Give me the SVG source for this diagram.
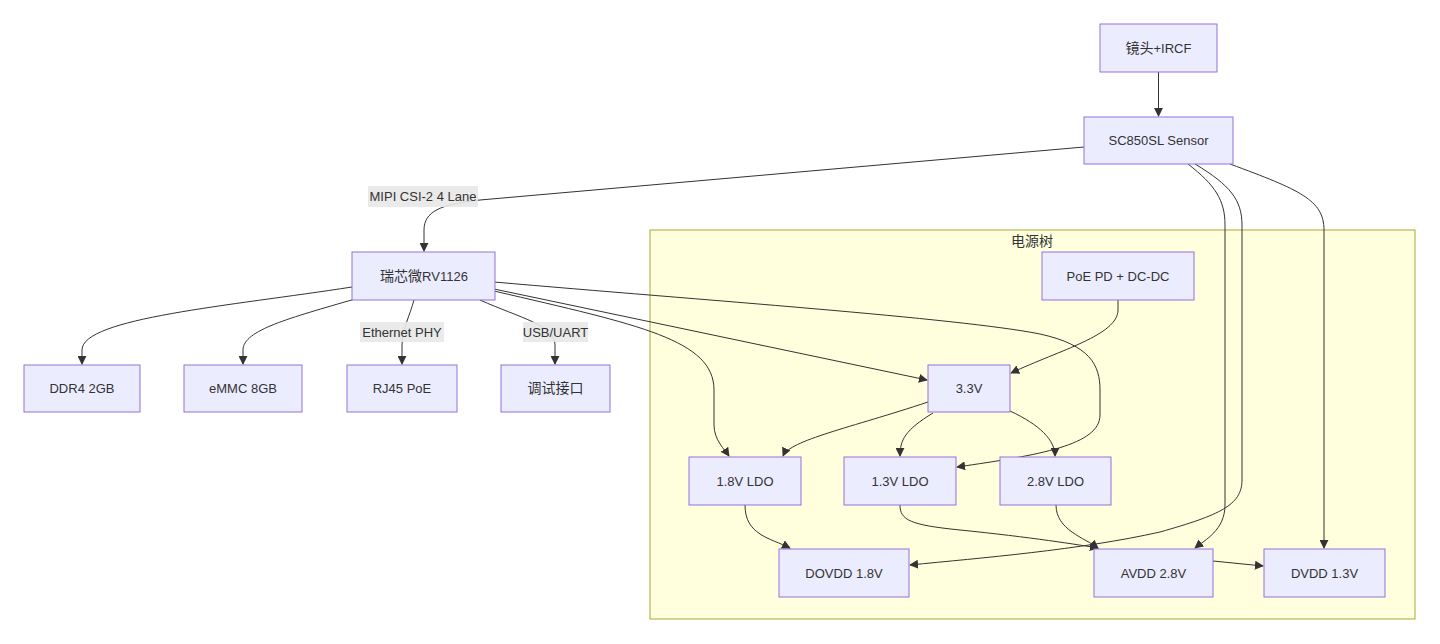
<svg xmlns="http://www.w3.org/2000/svg" width="1440" height="644" viewBox="0 0 1440 644">
<style>
text{font-family:"Liberation Sans","Noto Sans CJK SC",sans-serif;font-size:13px;fill:#333;text-anchor:middle}
.c{font-size:14px}
.node rect{fill:#ECECFF;stroke:#9370DB;stroke-width:1}
.edges path{fill:none;stroke:#333;stroke-width:1;marker-end:url(#arr)}
.lbl rect{fill:#e8e8e8;opacity:0.9}
.cluster rect{fill:#ffffde;stroke:#aaaa33;stroke-width:1}
</style>
<defs>
<marker id="arr" viewBox="0 0 10 10" refX="9" refY="5" markerWidth="9" markerHeight="9" markerUnits="userSpaceOnUse" orient="auto">
<path d="M0,0 L10,5 L0,10 z" fill="#333"/>
</marker>
</defs>
<rect width="1440" height="644" fill="#fff"/>
<g id="cluster-power" class="cluster">
<rect x="650" y="230" width="765" height="389"/>
<text x="1032" y="246"><tspan class="c">电源树</tspan></text>
</g>
<g id="connectors" class="edges">
<path d="M1158.5,72 L1158.5,116"/>
<path d="M1084,147 L480,200 C440,204 424,212 424,230 L424,251"/>
<path d="M352,287 C230,306 82,318 82,350 L82,364"/>
<path d="M355,299 C290,318 243,330 243,350 L243,364"/>
<path d="M414,300 C410,315 402,330 402,345 L402,364"/>
<path d="M480,300 C520,318 555,325 555,345 L555,364"/>
<path d="M494,282 C700,300 960,318 1040,334 C1090,345 1100,365 1100,390 L1100,415 C1100,445 1040,455 957,467"/>
<path d="M494,289 L927,380"/>
<path d="M494,291 C640,325 714,340 714,390 L714,425 C714,440 725,450 729,456"/>
<path d="M1118,300 L1118,310 C1118,335 1060,350 1011,373"/>
<path d="M928,402 C850,428 790,440 783,456"/>
<path d="M933,413 C905,430 900,440 900,456"/>
<path d="M1010,411 C1040,425 1055,440 1055,456"/>
<path d="M745,505 C745,535 770,538 790,548"/>
<path d="M900,505 C900,520 910,525 960,530 C1030,537 1080,545 1098,548"/>
<path d="M1056,505 C1056,530 1085,538 1098,548"/>
<path d="M1188,164 C1215,185 1225,200 1225,225 L1225,505 C1225,530 1205,540 1195,548"/>
<path d="M1195,164 C1230,185 1242,200 1242,225 L1242,480 C1242,505 1220,515 1160,532 C1080,550 980,558 910,565"/>
<path d="M1230,164 C1300,190 1324,200 1324,230 L1324,548"/>
<path d="M1213,561 L1263,566"/>
</g>
<g id="edge-labels">
<g class="lbl"><rect x="368" y="186" width="110" height="21"/><text x="423" y="201">MIPI CSI-2 4 Lane</text></g>
<g class="lbl"><rect x="360" y="322" width="84" height="20"/><text x="402" y="337">Ethernet PHY</text></g>
<g class="lbl"><rect x="523" y="322" width="65" height="20"/><text x="555.5" y="337">USB/UART</text></g>
</g>
<g id="n-lens" class="node"><rect x="1100" y="24" width="117" height="48"/><text x="1158.5" y="53"><tspan class="c">镜头</tspan>+IRCF</text></g>
<g id="n-sensor" class="node"><rect x="1084" y="117" width="149" height="47"/><text x="1158.5" y="145">SC850SL Sensor</text></g>
<g id="n-rv1126" class="node"><rect x="352" y="252" width="143" height="48"/><text x="424" y="281"><tspan class="c">瑞芯微</tspan>RV1126</text></g>
<g id="n-ddr" class="node"><rect x="24" y="365" width="116" height="47"/><text x="82" y="393">DDR4 2GB</text></g>
<g id="n-emmc" class="node"><rect x="184" y="365" width="118" height="47"/><text x="243" y="393">eMMC 8GB</text></g>
<g id="n-rj45" class="node"><rect x="347" y="365" width="110" height="47"/><text x="402" y="393">RJ45 PoE</text></g>
<g id="n-debug" class="node"><rect x="501" y="365" width="109" height="47"/><text x="555.5" y="393"><tspan class="c">调试接口</tspan></text></g>
<g id="n-poe" class="node"><rect x="1042" y="252" width="152" height="48"/><text x="1118" y="281">PoE PD + DC-DC</text></g>
<g id="n-33" class="node"><rect x="928" y="365" width="82" height="47"/><text x="969" y="393">3.3V</text></g>
<g id="n-18ldo" class="node"><rect x="689" y="457" width="112" height="48"/><text x="745" y="486">1.8V LDO</text></g>
<g id="n-13ldo" class="node"><rect x="844" y="457" width="112" height="48"/><text x="900" y="486">1.3V LDO</text></g>
<g id="n-28ldo" class="node"><rect x="1000" y="457" width="111" height="48"/><text x="1055.5" y="486">2.8V LDO</text></g>
<g id="n-dovdd" class="node"><rect x="779" y="549" width="130" height="48"/><text x="844" y="578">DOVDD 1.8V</text></g>
<g id="n-avdd" class="node"><rect x="1094" y="549" width="119" height="48"/><text x="1153.5" y="578">AVDD 2.8V</text></g>
<g id="n-dvdd" class="node"><rect x="1264" y="549" width="121" height="48"/><text x="1324.5" y="578">DVDD 1.3V</text></g>
</svg>
